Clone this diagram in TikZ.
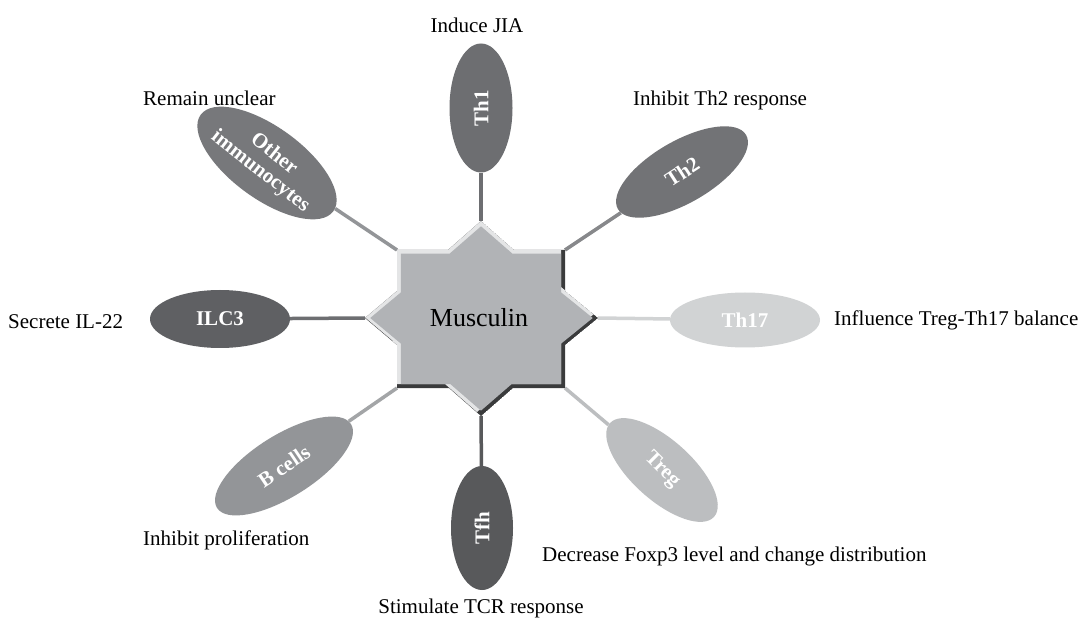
\documentclass[tikz,border=0pt]{standalone}
\usepackage{fontspec}
\setmainfont{Liberation Serif}
\usetikzlibrary{shapes.geometric}
\definecolor{cThA}{HTML}{6D6E71}
\definecolor{cThB}{HTML}{727376}
\definecolor{cOth}{HTML}{77787B}
\definecolor{cIlc}{HTML}{5F6063}
\definecolor{cBce}{HTML}{939598}
\definecolor{cTfh}{HTML}{58595B}
\definecolor{cTreg}{HTML}{BCBEC0}
\definecolor{cThC}{HTML}{D1D3D4}
\definecolor{starFill}{HTML}{B1B3B6}
\definecolor{starLight}{HTML}{E4E5E6}
\definecolor{starDark}{HTML}{3A3B3C}
\def\mstarpath{(481,221) -- (514,250) -- (565,250) -- (565,291) -- (598,318) -- (565,345) -- (565,388) -- (513,388) -- (481,416) -- (449,388) -- (397,388) -- (397,345) -- (365,318) -- (397,291) -- (397,250) -- (448,250) -- cycle}
\tikzset{
  cell/.style={ellipse, inner sep=0pt, draw=none},
  celltext/.style={text=white, font=\fontsize{21}{22}\selectfont\bfseries, align=center, inner sep=0pt},
  note/.style={font=\fontsize{21}{23}\selectfont, inner sep=0pt, text=black},
  link/.style={line width=3.5pt},
}
\begin{document}
\begin{tikzpicture}[x=1pt,y=-1pt]
\useasboundingbox (0,0) rectangle (1082,620);
\fill[white] (0,0) rectangle (1082,620);

% cells
\node[cell, fill=cThA, minimum width=129pt, minimum height=63pt, rotate=90] (th1) at (481,108) {};
\node[cell, fill=cThB, minimum width=148pt, minimum height=62pt, rotate=30] (th2) at (682,172) {};
\node[cell, fill=cOth, minimum width=164pt, minimum height=72pt, rotate=-36] (oth) at (267,163) {};
\node[cell, fill=cIlc, minimum width=140pt, minimum height=58pt] (ilc) at (220,319) {};
\node[cell, fill=cThC, minimum width=150pt, minimum height=55pt] (th17) at (745,320) {};
\node[cell, fill=cBce, minimum width=158pt, minimum height=62pt, rotate=32] (bce) at (284,466) {};
\node[cell, fill=cTfh, minimum width=124pt, minimum height=62pt, rotate=90] (tfh) at (482,528) {};
\node[cell, fill=cTreg, minimum width=140pt, minimum height=60pt, rotate=-42] (treg) at (662,470) {};

% cell texts
\node[celltext, rotate=90] (th1t) at (th1.center) {Th1};
\node[celltext, rotate=33] (th2t) at (th2.center) {Th2};
\node[celltext, rotate=-38] (otht) at (oth.center) {Other\\immunocytes};
\node[celltext] (ilct) at (ilc.center) {ILC3};
\node[celltext] (th17t) at (th17.center) {Th17};
\node[celltext, rotate=34] (bcet) at (bce.center) {B cells};
\node[celltext, rotate=90] (tfht) at (tfh.center) {Tfh};
\node[celltext, rotate=-45] (tregt) at (treg.center) {Treg};

% star anchor points
\coordinate (sT) at (481,221);
\coordinate (sTR) at (565,250);
\coordinate (sR) at (598,318);
\coordinate (sBR) at (565,388);
\coordinate (sB) at (481,416);
\coordinate (sBL) at (397,388);
\coordinate (sL) at (365,318);
\coordinate (sTL) at (397,250);

% connectors
\draw[link, cThA] (sT) -- (th1);
\draw[link, color=cThB!85!white] (sTR) -- (th2);
\draw[link, cThC] (sR) -- (th17);
\draw[link, cTreg] (sBR) -- (treg);
\draw[link, cTfh] (sB) -- (tfh);
\draw[link, color=cBce!85!white] (sBL) -- (bce);
\draw[link, cThA] (sL) -- (ilc);
\draw[link, cBce] (sTL) -- (oth);

% star with bevel
\begin{scope}
  \clip \mstarpath;
  \fill[starDark] \mstarpath;
  \fill[starLight, shift={(-4,-4)}] \mstarpath;
  \fill[starFill, shift={(481,318)}, xscale=0.955, yscale=0.945, shift={(-481,-318)}] \mstarpath;
\end{scope}
\node[font=\fontsize{26}{28}\selectfont, inner sep=0pt] (mus) at (479,318) {Musculin};

% notes
\node[note] (n1) at (477,25) {Induce JIA};
\node[note, anchor=west] (n2) at (633,100) {Inhibit Th2 response};
\node[note, anchor=west] (n3) at (143,98) {Remain unclear};
\node[note, anchor=west] (n4) at (8,322) {Secrete IL-22};
\node[note, anchor=west] (n5) at (834,320) {Influence Treg-Th17 balance};
\node[note, anchor=west] (n6) at (143,540) {Inhibit proliferation};
\node[note, anchor=west] (n7) at (542,556) {Decrease Foxp3 level and change distribution};
\node[note] (n8) at (481,608) {Stimulate TCR response};
\end{tikzpicture}
\end{document}
